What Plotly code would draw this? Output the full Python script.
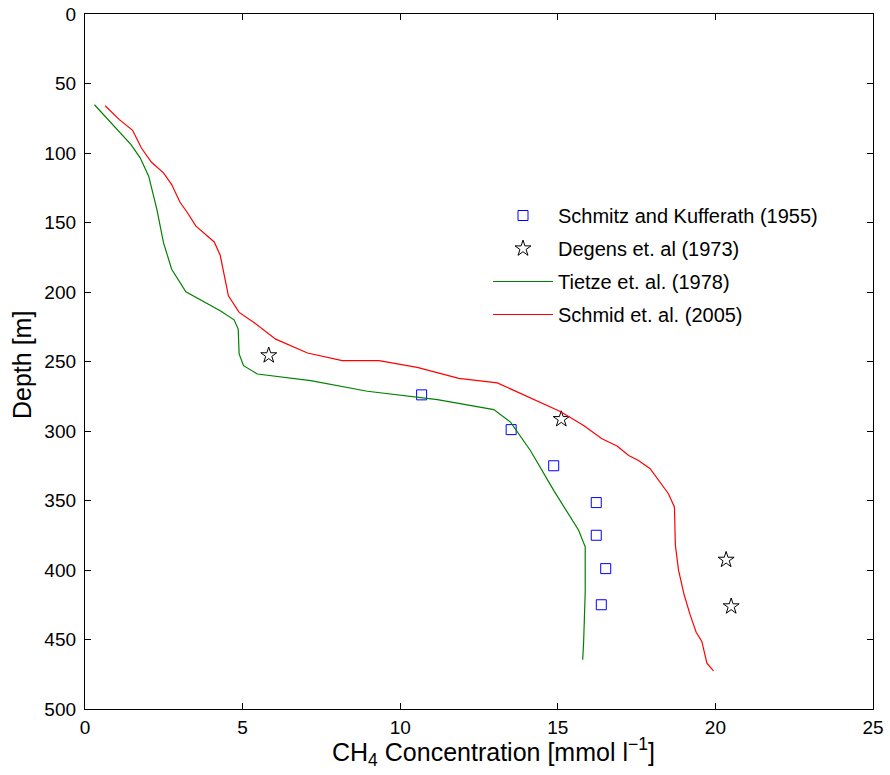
import plotly.graph_objects as go

# Schmitz and Kufferath (1955)
sk_conc = [10.68, 13.52, 14.87, 16.22, 16.22, 16.52, 16.38]
sk_depth = [274, 299, 325, 351.5, 375, 399, 425]

# Degens et al. (1973)
dg_conc = [5.83, 15.11, 20.34, 20.50]
dg_depth = [245.6, 291.5, 392.7, 426.2]

# Tietze et al. (1978)
ti_conc = [0.30, 1.46, 1.75, 2.02, 2.28, 2.49, 2.75, 3.20, 4.29, 4.73, 4.86, 4.89,
           5.03, 5.47, 7.16, 8.96, 11.18, 12.97, 13.50, 14.13, 14.87, 15.66, 15.87,
           15.87, 15.82, 15.79]
ti_depth = [65.3, 94, 103.5, 116.7, 140.6, 164.5, 183.6, 199.9, 213.5, 220, 226.7, 244.6,
            253, 259, 263.8, 271.4, 277.4, 284.6, 293.6, 314, 342.7, 371.4, 383.3,
            415.6, 451.4, 464.6]

# Schmid et al. (2005)
sm_conc = [0.64, 1.09, 1.51, 1.79, 2.11, 2.49, 2.75, 3.01, 3.25, 3.52, 4.10, 4.29,
           4.55, 4.89, 5.36, 6.05, 7.06, 8.16, 9.33, 10.54, 11.86, 13.08, 15.08,
           15.82, 16.40, 16.88, 17.25, 17.56, 17.93, 18.25, 18.51, 18.70, 18.73,
           18.83, 19.01, 19.20, 19.39, 19.57, 19.73, 19.94]
sm_depth = [66, 76, 83.7, 96.4, 106.7, 114.3, 122.7, 135.3, 143, 152.6, 164, 173.6,
            202.8, 214.7, 221.9, 233.9, 243.9, 249.4, 249.4, 254.2, 262.1, 265.4, 286,
            296, 305.6, 310.8, 317.6, 321.2, 327.1, 336.7, 345.1, 354.6, 382.1,
            400.1, 418, 432.3, 444.8, 451.4, 467, 472.5]

x_ticks = [0, 5, 10, 15, 20, 25]
y_ticks = [0, 50, 100, 150, 200, 250, 300, 350, 400, 450, 500]

FONT = "Liberation Sans, Arial, Helvetica, sans-serif"

fig = go.Figure()
fig.add_trace(go.Scatter(x=sk_conc, y=sk_depth, mode="markers", name="Schmitz and Kufferath (1955)",
                         legendgroup="a",
                         marker=dict(symbol="square-open", size=10, color="rgb(0,0,255)",
                                     line=dict(width=1, color="rgb(0,0,255)"))))
fig.add_trace(go.Scatter(x=dg_conc, y=dg_depth, mode="markers", name="Degens et. al (1973)",
                         legendgroup="b",
                         marker=dict(symbol="star-open", size=12, color="black",
                                     line=dict(width=1, color="black"))))
fig.add_trace(go.Scatter(x=ti_conc, y=ti_depth, mode="lines", name="Tietze et. al. (1978)",
                         legendgroup="c",
                         line=dict(color="rgb(0,128,0)", width=1.2)))
fig.add_trace(go.Scatter(x=sm_conc, y=sm_depth, mode="lines", name="Schmid et. al. (2005)",
                         legendgroup="d",
                         line=dict(color="rgb(255,0,0)", width=1.2)))

axis_common = dict(showline=True, linecolor="black", linewidth=1.3, mirror="ticks",
                   ticks="inside", ticklen=6, tickcolor="black", showgrid=False,
                   zeroline=False, automargin=False,
                   tickfont=dict(family=FONT, size=19, color="black"))

fig.update_layout(
    template="none",
    width=890, height=775,
    margin=dict(l=85, r=17, t=14, b=66, autoexpand=False),
    paper_bgcolor="white", plot_bgcolor="white",
    xaxis=dict(range=[0, 25], tickvals=x_ticks, ticktext=[str(v) for v in x_ticks],
               ticklabelstandoff=1,
               **axis_common),
    yaxis=dict(range=[500, 0], tickvals=y_ticks, ticktext=[str(v) for v in y_ticks],
               ticklabelstandoff=4,
               **axis_common),
    legend=dict(x=(488 - 85) / 788, y=(709 - 196) / 695, xanchor="left", yanchor="top",
                bgcolor="rgba(0,0,0,0)", borderwidth=0, itemwidth=60,
                font=dict(family=FONT, size=20, color="black"),
                traceorder="grouped", tracegroupgap=4),
    showlegend=True,
    annotations=[
        dict(text="CH<sub>4</sub> Concentration [mmol l<sup>−1</sup>]",
             xref="paper", yref="paper", x=(493 - 85) / 788, y=(709 - 752) / 695,
             xanchor="center", yanchor="middle", showarrow=False,
             font=dict(family=FONT, size=25, color="black")),
        dict(text="Depth [m]", textangle=-90,
             xref="paper", yref="paper", x=(22 - 85) / 788, y=(709 - 365) / 695,
             xanchor="center", yanchor="middle", showarrow=False,
             font=dict(family=FONT, size=25, color="black")),
    ],
)

fig.write_html("out.html")
